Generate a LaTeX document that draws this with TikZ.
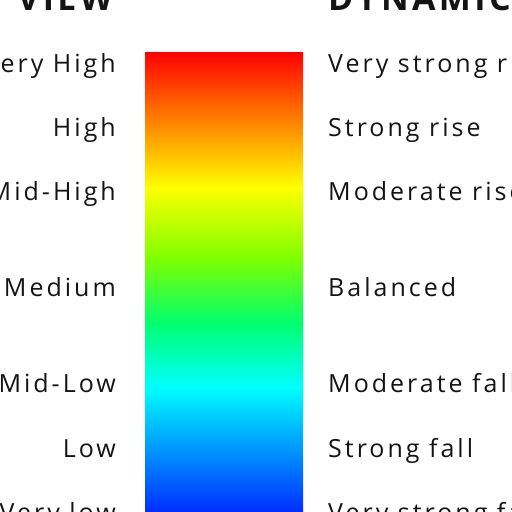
\documentclass[tikz,border=0pt]{standalone}
\usepackage{fontspec}
\newfontfamily\lblfont[LetterSpace=12]{Open Sans}
\newfontfamily\hdfont[LetterSpace=10]{Open Sans Bold}
\definecolor{txt}{HTML}{141414}
\definecolor{cR}{HTML}{FF0000}
\definecolor{cY}{HTML}{FFFF00}
\definecolor{cL}{HTML}{80FF00}
\definecolor{cG}{HTML}{00FF6E}
\definecolor{cC}{HTML}{00FFFF}
\definecolor{cB}{HTML}{0020FF}
\begin{document}
\begin{tikzpicture}[x=1pt,y=-1pt,
  lbl/.style={font=\lblfont\fontsize{25}{30}\selectfont, text=txt, inner sep=0pt},
  left lbl/.style={lbl, anchor=base east},
  right lbl/.style={lbl, anchor=base west},
  hd/.style={font=\hdfont\fontsize{34}{40}\selectfont, text=txt, inner sep=0pt}]
\useasboundingbox (0,0) rectangle (512,512);
\clip (0,0) rectangle (512,512);
% colour bar
\fill[top color=cR, bottom color=cY] (145,52) rectangle (303,187.5);
\fill[top color=cY, bottom color=cL] (145,187) rectangle (303,257.5);
\fill[top color=cL, bottom color=cG] (145,257) rectangle (303,323.5);
\fill[top color=cG, bottom color=cC] (145,323) rectangle (303,387.5);
\fill[top color=cC, bottom color=cB] (145,387) rectangle (303,520);
% headings
\node[hd, anchor=base east] (hview) at (113,10) {VIEW};
\node[hd, anchor=base west] (hdyn) at (328,10) {DYNAMIC};
% left labels
\node[left lbl] (vh) at (116,72) {Very High};
\node[left lbl] (h) at (116,136) {High};
\node[left lbl] (mh) at (116,200) {Mid-High};
\node[left lbl] (m) at (116,296) {Medium};
\node[left lbl] (ml) at (116,392) {Mid-Low};
\node[left lbl] (l) at (116,457) {Low};
\node[left lbl] (vl) at (116,521) {Very low};
% right labels
\node[right lbl] (vsr) at (328,72) {Very strong rise};
\node[right lbl] (sr) at (328,136) {Strong rise};
\node[right lbl] (mr) at (328,200) {Moderate rise};
\node[right lbl] (b) at (328,296) {Balanced};
\node[right lbl] (mf) at (328,392) {Moderate fall};
\node[right lbl] (sf) at (328,457) {Strong fall};
\node[right lbl] (vsf) at (328,521) {Very strong fall};
\end{tikzpicture}
\end{document}
